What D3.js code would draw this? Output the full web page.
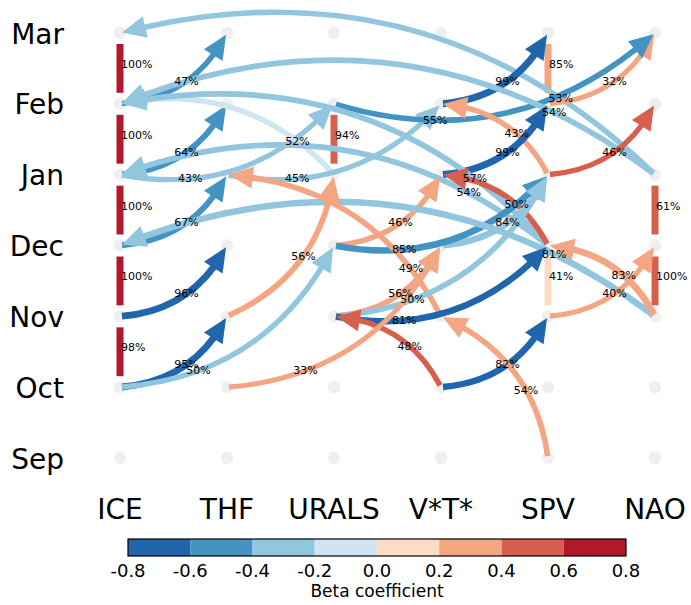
<!DOCTYPE html>
<html>
<head>
<meta charset="utf-8">
<script src="https://cdn.jsdelivr.net/npm/d3@7"></script>
<style>
  body { margin: 0; background: #fff; }
  text { font-family: "DejaVu Sans", sans-serif; }
</style>
</head>
<body>
<svg id="svg" width="691" height="605"></svg>
<script>
const variables = ["ICE", "THF", "URALS", "V*T*", "SPV", "NAO"];
const months = ["Sep", "Oct", "Nov", "Dec", "Jan", "Feb", "Mar"];

// lagged links: [from var, from month, to var, to month, beta, % of members]
const links = [
    ["ICE", "Feb", "THF", "Mar", -0.5, 47],
    ["ICE", "Jan", "THF", "Feb", -0.5, 64],
    ["ICE", "Dec", "THF", "Jan", -0.5, 67],
    ["ICE", "Nov", "THF", "Dec", -0.7, 96],
    ["ICE", "Oct", "THF", "Nov", -0.7, 95],
    ["ICE", "Oct", "URALS", "Dec", -0.3, 50],
    ["NAO", "Jan", "ICE", "Mar", -0.3, 53],
    ["V*T*", "Feb", "SPV", "Mar", -0.7, 99],
    ["SPV", "Feb", "NAO", "Mar", 0.3, 32],
    ["ICE", "Jan", "URALS", "Feb", -0.3, 43],
    ["URALS", "Jan", "ICE", "Feb", -0.1, 52],
    ["THF", "Jan", "V*T*", "Feb", -0.3, 45],
    ["URALS", "Feb", "NAO", "Mar", -0.5, 55],
    ["NAO", "Jan", "ICE", "Feb", -0.3, 54],
    ["SPV", "Jan", "V*T*", "Feb", 0.3, 43],
    ["V*T*", "Jan", "SPV", "Feb", -0.7, 99],
    ["SPV", "Jan", "NAO", "Feb", 0.5, 46],
    ["SPV", "Dec", "ICE", "Feb", -0.3, 57],
    ["SPV", "Dec", "ICE", "Jan", -0.3, 54],
    ["SPV", "Dec", "V*T*", "Jan", 0.5, 50],
    ["V*T*", "Dec", "SPV", "Jan", -0.3, 84],
    ["URALS", "Dec", "V*T*", "Jan", 0.3, 46],
    ["URALS", "Dec", "SPV", "Jan", -0.5, 85],
    ["NAO", "Nov", "ICE", "Dec", -0.3, 81],
    ["V*T*", "Nov", "THF", "Jan", 0.3, 49],
    ["THF", "Nov", "URALS", "Jan", 0.3, 56],
    ["NAO", "Nov", "SPV", "Dec", 0.3, 83],
    ["SPV", "Nov", "NAO", "Dec", 0.3, 40],
    ["URALS", "Nov", "V*T*", "Dec", 0.3, 56],
    ["URALS", "Nov", "SPV", "Jan", -0.3, 50],
    ["URALS", "Nov", "SPV", "Dec", -0.7, 81],
    ["V*T*", "Oct", "URALS", "Nov", 0.5, 48],
    ["THF", "Oct", "V*T*", "Dec", 0.3, 33],
    ["V*T*", "Oct", "SPV", "Nov", -0.7, 82],
    ["SPV", "Sep", "V*T*", "Nov", 0.3, 54]
];

// autocorrelation links to the following month: [var, month, beta, %]
const autoLinks = [
    ["ICE", "Oct", 0.7, 98],
    ["ICE", "Nov", 0.7, 100],
    ["ICE", "Dec", 0.7, 100],
    ["ICE", "Jan", 0.7, 100],
    ["ICE", "Feb", 0.7, 100],
    ["URALS", "Jan", 0.5, 94],
    ["SPV", "Feb", 0.3, 85],
    ["SPV", "Nov", 0.1, 41],
    ["NAO", "Dec", 0.5, 61],
    ["NAO", "Nov", 0.5, 100]
];

const colorTicks = [-0.8, -0.6, -0.4, -0.2, 0.0, 0.2, 0.4, 0.6, 0.8];
const binColors = ["#2166ac", "#4393c3", "#92c5de", "#d1e5f0", "#fddbc7", "#f4a582", "#d6604d", "#b2182b"];

const svg = d3.select("#svg");

const xScale = d3.scalePoint().domain(variables).range([120, 655]);
const yScale = d3.scalePoint().domain(months).range([458, 33]);
const color = d3.scaleThreshold().domain(colorTicks.slice(1, -1)).range(binColors);
const cbScale = d3.scaleLinear().domain([-0.8, 0.8]).range([128, 626]);

const rad = 0.28;
const headLen = 24;
const headWidth = 22;

function nodePos(v, m) {
    return [xScale(v), yScale(m)];
}

// quadratic bezier like matplotlib's arc3 connection
function makeCurve(p0, p2) {
    const dx = p2[0] - p0[0], dy = p2[1] - p0[1];
    const c = [(p0[0] + p2[0]) / 2 - rad * dy, (p0[1] + p2[1]) / 2 + rad * dx];
    const pt = t => [
        (1 - t) * (1 - t) * p0[0] + 2 * t * (1 - t) * c[0] + t * t * p2[0],
        (1 - t) * (1 - t) * p0[1] + 2 * t * (1 - t) * c[1] + t * t * p2[1]
    ];
    // cumulative arc length for distance lookups
    const n = 400;
    const lens = [0];
    let prev = pt(0);
    for (let i = 1; i <= n; i++) {
        const p = pt(i / n);
        lens.push(lens[i - 1] + Math.hypot(p[0] - prev[0], p[1] - prev[1]));
        prev = p;
    }
    const total = lens[n];
    const tAt = d => {
        const i = Math.max(1, d3.bisectLeft(lens, d));
        const f = (d - lens[i - 1]) / (lens[i] - lens[i - 1] || 1);
        return (i - 1 + f) / n;
    };
    const ctrl = (a, b) => [
        (1 - a) * (1 - b) * p0[0] + ((1 - a) * b + a * (1 - b)) * c[0] + a * b * p2[0],
        (1 - a) * (1 - b) * p0[1] + ((1 - a) * b + a * (1 - b)) * c[1] + a * b * p2[1]
    ];
    return {pt, tAt, total, ctrl, chord: Math.hypot(dx, dy), dx};
}

// nodes
const nodes = [];
variables.forEach(v => months.forEach(m => nodes.push([v, m])));
svg.append("g").selectAll("circle")
    .data(nodes)
    .join("circle")
    .attr("cx", d => xScale(d[0]))
    .attr("cy", d => yScale(d[1]))
    .attr("r", 6.2)
    .attr("fill", "#efefef");

// auto-dependency bars
const autoG = svg.append("g");
autoLinks.forEach(d => {
    const mi = months.indexOf(d[1]);
    const x = xScale(d[0]);
    const yLow = yScale(d[1]);
    const yHigh = yScale(months[mi + 1]);
    autoG.append("rect")
        .attr("x", x - 3.5)
        .attr("y", yHigh + 11)
        .attr("width", 7)
        .attr("height", yLow - yHigh - 22)
        .attr("fill", color(d[2]));
});

// lagged links
const linkG = svg.append("g");
const labelData = [];
links.forEach(d => {
    const p0 = nodePos(d[0], d[1]);
    const p2 = nodePos(d[2], d[3]);
    const cv = makeCurve(p0, p2);
    const col = color(d[4]);
    const w = 4 + 3 * d[5] / 100;

    const ta = cv.tAt(2);
    const tb = cv.tAt(cv.total - (2 + headLen - 2));
    const tTip = cv.tAt(cv.total - 2);
    const tBase = cv.tAt(cv.total - 2 - headLen);

    const q0 = cv.pt(ta), q1 = cv.ctrl(ta, tb), q2 = cv.pt(tb);
    linkG.append("path")
        .attr("d", `M${q0[0]},${q0[1]} Q${q1[0]},${q1[1]} ${q2[0]},${q2[1]}`)
        .attr("fill", "none")
        .attr("stroke", col)
        .attr("stroke-width", w);

    const tip = cv.pt(tTip), base = cv.pt(tBase);
    const ux = tip[0] - base[0], uy = tip[1] - base[1];
    const ul = Math.hypot(ux, uy);
    const vx = -uy / ul * headWidth / 2, vy = ux / ul * headWidth / 2;
    linkG.append("polygon")
        .attr("points", [tip, [base[0] + vx, base[1] + vy], [base[0] - vx, base[1] - vy]].map(p => p.join(",")).join(" "))
        .attr("fill", col);

    // label nearer the source on long links, and more so when pointing left
    let tl;
    if (cv.chord < 200) tl = cv.dx > 0 ? 0.53 : 0.38;
    else tl = cv.dx > 0 ? 0.29 : 0.2;
    labelData.push({p: cv.pt(tl), text: d[5] + "%"});
});

// labels on top
svg.append("g").selectAll("text")
    .data(labelData)
    .join("text")
    .attr("x", d => d.p[0])
    .attr("y", d => d.p[1])
    .attr("text-anchor", "middle")
    .attr("dominant-baseline", "central")
    .style("font-size", "11px")
    .text(d => d.text);

svg.append("g").selectAll("text")
    .data(autoLinks)
    .join("text")
    .attr("x", d => xScale(d[0]) + 1)
    .attr("y", d => (yScale(d[1]) + yScale(months[months.indexOf(d[1]) + 1])) / 2 - 4)
    .attr("dominant-baseline", "central")
    .style("font-size", "11px")
    .text(d => d[3] + "%");

// month labels
svg.append("g").selectAll("text")
    .data(months)
    .join("text")
    .attr("x", 64)
    .attr("y", d => yScale(d) + 1)
    .attr("text-anchor", "end")
    .attr("dominant-baseline", "central")
    .style("font-size", "28px")
    .text(d => d);

// variable labels
svg.append("g").selectAll("text")
    .data(variables)
    .join("text")
    .attr("x", d => xScale(d))
    .attr("y", 519)
    .attr("text-anchor", "middle")
    .style("font-size", "28px")
    .text(d => d);

// colorbar
const cb = svg.append("g");
cb.selectAll("rect")
    .data(binColors)
    .join("rect")
    .attr("x", (d, i) => cbScale(colorTicks[i]))
    .attr("y", 539)
    .attr("width", (d, i) => cbScale(colorTicks[i + 1]) - cbScale(colorTicks[i]))
    .attr("height", 17)
    .attr("fill", d => d);
cb.append("rect")
    .attr("x", cbScale(-0.8))
    .attr("y", 539)
    .attr("width", cbScale(0.8) - cbScale(-0.8))
    .attr("height", 17)
    .attr("fill", "none")
    .attr("stroke", "#000")
    .attr("stroke-width", 1.2);
cb.selectAll(".tick-label")
    .data(colorTicks)
    .join("text")
    .attr("class", "tick-label")
    .attr("x", d => cbScale(d))
    .attr("y", 577)
    .attr("text-anchor", "middle")
    .style("font-size", "18px")
    .text(d => d3.format(".1f")(d).replace("−", "-"));
cb.append("text")
    .attr("x", (cbScale(-0.8) + cbScale(0.8)) / 2)
    .attr("y", 597)
    .attr("text-anchor", "middle")
    .style("font-size", "17px")
    .text("Beta coefficient");
</script>
</body>
</html>
